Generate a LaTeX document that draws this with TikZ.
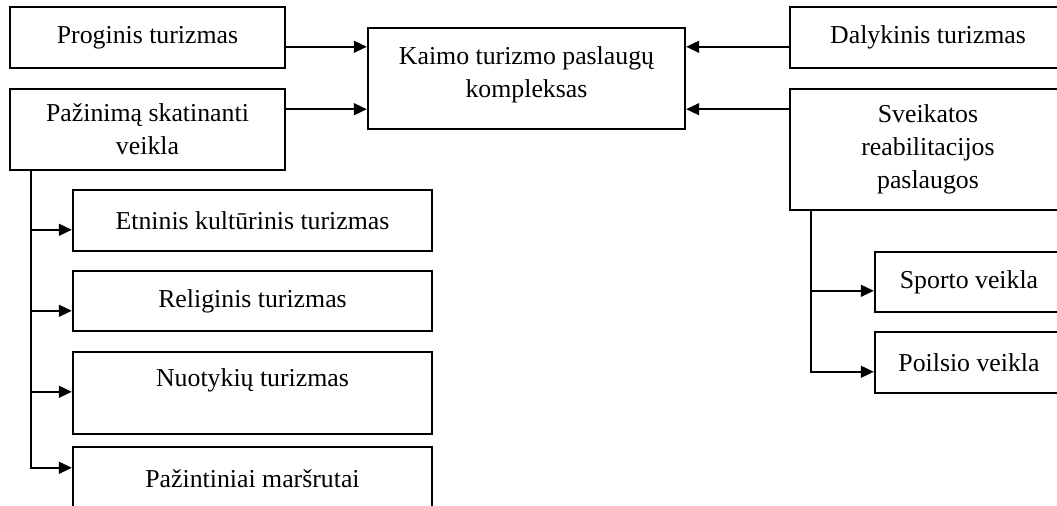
\documentclass[tikz,border=0pt]{standalone}
\usepackage{fontspec}
\setmainfont{Liberation Serif}
\usetikzlibrary{arrows.meta}

\begin{document}
\begin{tikzpicture}[x=0.5pt, y=-0.5pt, >={Triangle[length=6.5pt,width=6pt]}, line join=miter,
	box/.style={draw, line width=1.2pt, inner sep=2pt, align=center, font=\fontsize{12.9}{16.6}\selectfont},
	arr/.style={->, line width=0.75pt}]
	\clip (0,0) rectangle (1057,506);
	% centre
	\node[box, minimum width=158.5pt, minimum height=50.5pt] (kaimo) at (526.5,78.5) {Kaimo turizmo paslaugų\\kompleksas\\[-9.8pt]\mbox{}};
	% left side
	\node[box, minimum width=137.5pt, minimum height=30.5pt] (prog) at (147.5,37.5) {Proginis turizmas};
	\node[box, minimum width=137.5pt, minimum height=40.5pt] (paz) at (147.5,129.5) {Pažinimą skatinanti\\veikla};
	\node[box, minimum width=179.5pt, minimum height=30.5pt] (etn) at (252.5,220.5) {Etninis kultūrinis turizmas};
	\node[box, minimum width=179.5pt, minimum height=30pt] (rel) at (252.5,301) {Religinis turizmas};
	\node[box, minimum width=179.5pt, minimum height=41pt] (nuot) at (252.5,393) {Nuotykių turizmas\\[-1pt]\mbox{}};
	\node[box, minimum width=179.5pt, minimum height=32pt] (marsr) at (252.5,479) {Pažintiniai maršrutai};
	% right side
	\node[box, minimum width=138pt, minimum height=30.5pt] (dal) at (928,37.5) {Dalykinis turizmas};
	\node[box, minimum width=138pt, minimum height=60.5pt] (sveik) at (928,149.5) {Sveikatos\\reabilitacijos\\paslaugos};
	\node[box, minimum width=94pt, minimum height=30pt] (sport) at (969,282) {Sporto veikla};
	\node[box, minimum width=94pt, minimum height=30.5pt] (poils) at (969,362.5) {Poilsio veikla};
	% arrows into the centre
	\coordinate (kin1) at ([yshift=-10pt]kaimo.north west);
	\coordinate (kin2) at ([yshift=10.5pt]kaimo.south west);
	\coordinate (kin3) at ([yshift=-10pt]kaimo.north east);
	\coordinate (kin4) at ([yshift=10.5pt]kaimo.south east);
	\draw[arr] (prog.east |- kin1) -- (kin1);
	\draw[arr] (paz.east |- kin2) -- (kin2);
	\draw[arr] (dal.west |- kin3) -- (kin3);
	\draw[arr] (sveik.west |- kin4) -- (kin4);
	% left branch
	\coordinate (ltop) at ([xshift=11pt]paz.south west);
	\coordinate (lin1) at ([yshift=-20.5pt]etn.north west);
	\coordinate (lin2) at ([yshift=-20.5pt]rel.north west);
	\coordinate (lin3) at ([yshift=-20.5pt]nuot.north west);
	\coordinate (lin4) at ([yshift=-11pt]marsr.north west);
	\draw[arr] (ltop) |- (lin4);
	\draw[arr] (ltop |- lin1) -- (lin1);
	\draw[arr] (ltop |- lin2) -- (lin2);
	\draw[arr] (ltop |- lin3) -- (lin3);
	% right branch
	\coordinate (rtop) at ([xshift=11pt]sveik.south west);
	\coordinate (rin1) at ([yshift=-20pt]sport.north west);
	\coordinate (rin2) at ([yshift=-20.5pt]poils.north west);
	\draw[arr] (rtop) |- (rin2);
	\draw[arr] (rtop |- rin1) -- (rin1);
\end{tikzpicture}
\end{document}
